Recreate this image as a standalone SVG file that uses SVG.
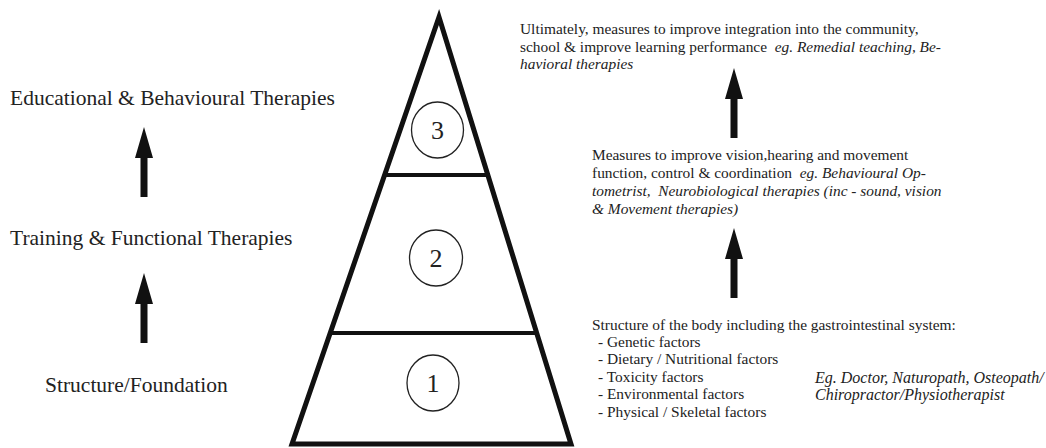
<svg xmlns="http://www.w3.org/2000/svg" width="1046" height="448" viewBox="0 0 1046 448">
<style>
text{white-space:pre}
.lbl{font-family:"Liberation Serif","Times New Roman",serif;font-size:21.5px;fill:#222}
.txt{font-family:"Liberation Serif","Times New Roman",serif;font-size:15.4px;fill:#222}
.it{font-style:italic}
.num{font-family:"Liberation Serif","Times New Roman",serif;font-size:26px;fill:#222;text-anchor:middle}
.ring{fill:none;stroke:#222;stroke-width:1.3}
.arrow{fill:#111}
</style>
<defs>
<path id="arr" d="M0,0 L9,31 L3.5,31 L3.5,70 L-3.5,70 L-3.5,31 L-9,31 Z"/>
</defs>
<rect width="1046" height="448" fill="#fff"/>
<g id="pyramid">
<polygon points="439,17 292,444 571,444" fill="#fff" stroke="#111" stroke-width="5" stroke-linejoin="miter"/>
<line x1="385" y1="175" x2="490" y2="175" stroke="#111" stroke-width="4"/>
<line x1="330" y1="333" x2="537" y2="333" stroke="#111" stroke-width="4"/>
</g>
<g id="level3"><ellipse class="ring" cx="437.5" cy="130" rx="26" ry="28"/><text class="num" x="437.5" y="139">3</text></g>
<g id="level2"><ellipse class="ring" cx="436" cy="258" rx="26.5" ry="28"/><text class="num" x="436" y="267">2</text></g>
<g id="level1"><ellipse class="ring" cx="433" cy="383" rx="26" ry="28"/><text class="num" x="433" y="392">1</text></g>
<g id="left-labels">
<text class="lbl" x="10" y="105">Educational &amp; Behavioural Therapies</text>
<text class="lbl" x="10" y="245">Training &amp; Functional Therapies</text>
<text class="lbl" x="45" y="392">Structure/Foundation</text>
</g>
<g id="connectors">
<use href="#arr" class="arrow" x="144" y="127"/>
<use href="#arr" class="arrow" x="144" y="273"/>
<use href="#arr" class="arrow" x="734" y="68"/>
<use href="#arr" class="arrow" x="734" y="228"/>
</g>
<g id="top-text">
<text class="txt" x="520" y="34">Ultimately, measures to improve integration into the community,</text>
<text class="txt" x="520" y="52">school &amp; improve learning performance  <tspan class="it">eg. Remedial teaching, Be-</tspan></text>
<text class="txt it" x="520" y="69">havioral therapies</text>
</g>
<g id="middle-text">
<text class="txt" x="592" y="160">Measures to improve vision,hearing and movement</text>
<text class="txt" x="592" y="178">function, control &amp; coordination  <tspan class="it">eg. Behavioural Op-</tspan></text>
<text class="txt it" x="592" y="196">tometrist,  Neurobiological therapies (inc - sound, vision</text>
<text class="txt it" x="592" y="214">&amp; Movement therapies)</text>
</g>
<g id="bottom-text">
<text class="txt" x="592" y="330">Structure of the body including the gastrointestinal system:</text>
<text class="txt" x="598" y="347">- Genetic factors</text>
<text class="txt" x="598" y="364">- Dietary / Nutritional factors</text>
<text class="txt" x="598" y="382">- Toxicity factors</text>
<text class="txt" x="598" y="399">- Environmental factors</text>
<text class="txt" x="598" y="417">- Physical / Skeletal factors</text>
<text class="txt it" x="815" y="383" style="font-size:16px">Eg. Doctor, Naturopath, Osteopath/</text>
<text class="txt it" x="815" y="400" style="font-size:16px">Chiropractor/Physiotherapist</text>
</g>
</svg>
